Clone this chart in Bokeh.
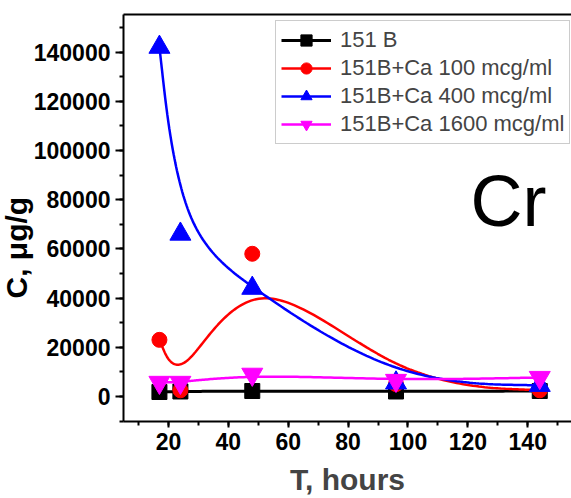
import numpy as np
from bokeh.plotting import figure
from bokeh.models import (Range1d, LinearAxis, SingleIntervalTicker, FixedTicker,
                          BasicTickFormatter, Legend, LegendItem, Label, Title)
from bokeh.embed import file_html
from bokeh.resources import INLINE

# ---- data ----
hours = [17, 24, 48, 96, 144]
b151 = [1800, 2000, 2200, 2000, 2200]
ca100 = [23000, 2500, 58000, 5000, 2500]
ca400 = [142000, 66000, 44000, 5500, 4500]
ca1600 = [5700, 5700, 9000, 6500, 7700]

series_names = ["151 B", "151B+Ca 100 mcg/ml", "151B+Ca 400 mcg/ml", "151B+Ca 1600 mcg/ml"]
x_ticks_interval = 20
y_ticks_interval = 20000
x_axis_title = "T, hours"
y_axis_title = "C, \u03bcg/g"
element = "Cr"


def bspline(xs, ys, n=40):
    """Uniform cubic B-spline with tripled end control points (Origin 'B-Spline' connect)."""
    P = np.column_stack([xs, ys]).astype(float)
    P = np.vstack([P[0], P[0], P, P[-1], P[-1]])
    u = np.linspace(0, 1, n)
    b0 = (1 - u) ** 3 / 6
    b1 = (3 * u ** 3 - 6 * u ** 2 + 4) / 6
    b2 = (-3 * u ** 3 + 3 * u ** 2 + 3 * u + 1) / 6
    b3 = u ** 3 / 6
    out = []
    for i in range(len(P) - 3):
        seg = (b0[:, None] * P[i] + b1[:, None] * P[i + 1]
               + b2[:, None] * P[i + 2] + b3[:, None] * P[i + 3])
        out.append(seg if i == 0 else seg[1:])
    s = np.vstack(out)
    return s[:, 0], s[:, 1]


FONT = "Liberation Sans"

p = figure(width=571, height=498, output_backend="svg", toolbar_location=None,
           x_range=Range1d(5, 154.6), y_range=Range1d(-10200, 155300),
           min_border_left=121, min_border_right=0, min_border_top=14, min_border_bottom=77)
p.background_fill_color = "white"
p.border_fill_color = "white"
p.outline_line_color = None
p.grid.visible = False

# axes styling
xa = p.xaxis[0]
ya = p.yaxis[0]
xa.ticker = SingleIntervalTicker(interval=x_ticks_interval, num_minor_ticks=2)
ya.ticker = SingleIntervalTicker(interval=y_ticks_interval, num_minor_ticks=2)
ya.formatter = BasicTickFormatter(use_scientific=False)
for ax in (xa, ya):
    ax.axis_line_width = 2
    ax.axis_line_color = "black"
    ax.major_tick_line_width = 2
    ax.minor_tick_line_width = 2
    ax.major_tick_in = 0
    ax.minor_tick_in = 0
    ax.major_label_text_font = FONT
    ax.major_label_text_font_style = "bold"
    ax.major_label_text_font_size = "23px"
    ax.major_label_text_color = "black"
xa.major_tick_out = 6
xa.minor_tick_out = 4
ya.major_tick_out = 8
ya.minor_tick_out = 4
xa.major_label_standoff = 5
ya.major_label_standoff = 5

xa.axis_label = x_axis_title
xa.axis_label_text_font = FONT
xa.axis_label_text_font_style = "bold"
xa.axis_label_text_font_size = "30px"
xa.axis_label_standoff = 10

# top border line of the frame
top = LinearAxis(ticker=FixedTicker(ticks=[]), axis_line_width=2, axis_line_color="black",
                 major_tick_out=0, major_tick_in=0, minor_tick_out=0, minor_tick_in=0,
                 major_label_text_font_size="0px", major_label_standoff=0)
p.add_layout(top, "above")

# y axis title, rotated, left of the tick labels
p.add_layout(Title(text=y_axis_title, align="left", offset=123, standoff=-5,
                   text_font=FONT, text_font_style="bold", text_font_size="30px",
                   text_color="black"), "left")

# series
colors = ["black", "red", "blue", "magenta"]
markers = ["square", "circle", "triangle", "inverted_triangle"]
sizes = [15, 15, 21, 21]
widths = [3, 2.5, 2.5, 2.5]
data = [b151, ca100, ca400, ca1600]

items = []
for name, ys, c, m, s, w in zip(series_names, data, colors, markers, sizes, widths):
    cx, cy = bspline(hours, ys)
    lr = p.line(cx, cy, line_color=c, line_width=w)
    mr = p.scatter(hours, ys, marker=m, size=s, fill_color=c, line_color=c)
    items.append(LegendItem(label=name, renderers=[lr, mr]))

legend = Legend(items=items, location=(152, 277), padding=5, spacing=0,
                glyph_width=50, glyph_height=28, label_height=28, label_standoff=9,
                label_text_font=FONT, label_text_font_size="22px",
                border_line_color="#9a9a9a", border_line_width=1.5,
                background_fill_color="white", background_fill_alpha=1, margin=0)
p.add_layout(legend, "center")

# element label
p.add_layout(Label(x=347, y=221, x_units="screen", y_units="screen", text=element,
                   text_align="left", text_baseline="alphabetic",
                   text_font=FONT, text_font_size="72px", text_color="black"))

open("out.html", "w").write(file_html(p, INLINE))
